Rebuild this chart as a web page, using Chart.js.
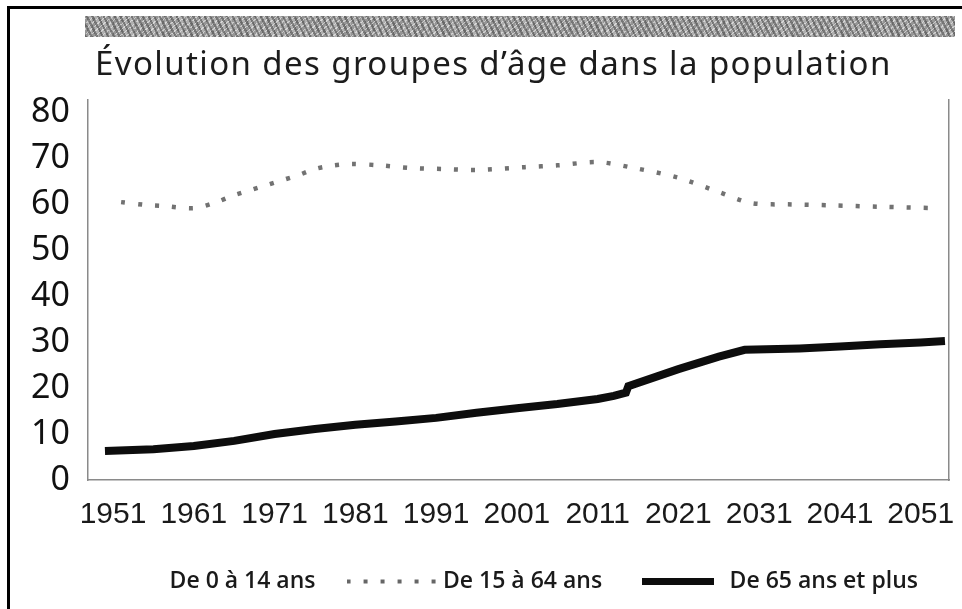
<!DOCTYPE html>
<html lang="fr">
<head>
<meta charset="utf-8">
<title>Évolution des groupes d'âge dans la population</title>
<script src="https://cdn.jsdelivr.net/npm/chart.js@4.4.1/dist/chart.umd.min.js"></script>
<style>
  html, body { margin: 0; padding: 0; background: #fff; }
  #page { position: relative; width: 962px; height: 609px; overflow: hidden; background: #fff; }
  #frame { position: absolute; left: 7px; top: 6px; right: -4px; bottom: -4px;
           border-left: 3px solid #000; border-top: 3px solid #000; }
  #band { position: absolute; left: 85px; top: 16px; width: 870px; height: 21px;
          background-color: #b0b0b0;
          background-image:
            repeating-linear-gradient(63deg, rgba(60,60,60,.5) 0 2px, transparent 2px 5px),
            repeating-linear-gradient(-41deg, rgba(255,255,255,.5) 0 1px, transparent 1px 4px),
            repeating-linear-gradient(90deg, rgba(90,90,90,.3) 0 3px, transparent 3px 7px); }
  #title { position: absolute; left: 95px; top: 46px; font: 33px/33px 'Noto Sans', sans-serif;
           letter-spacing: 1.4px; color: #1c1c1c; white-space: nowrap; }
  #chart { position: absolute; left: 10px; top: 10px; }
</style>
</head>
<body>
<div id="page">
  <div id="frame"></div>
  <div id="band"></div>
  <canvas id="chart" width="976" height="599"></canvas>
  <div id="title">Évolution des groupes d’âge dans la population</div>
</div>
<script>
// data (percent of the population)
const seriesNames = ['De 0 à 14 ans', 'De 15 à 64 ans', 'De 65 ans et plus'];

// 0-14 is in the legend but no line shows in the picture
const yearsKids = [];
const kids = [];

const yearsWorking = [1952, 1955, 1957, 1961, 1963.5, 1966, 1968, 1970, 1972, 1974, 1976, 1978, 1980.5,
  1984, 1988, 1992, 1996, 2002, 2006, 2011, 2015, 2021, 2026, 2030, 2035, 2040, 2046, 2053];
const working = [60.4, 59.8, 59.6, 59.1, 60.2, 61.9, 63.0, 64.1, 65.2, 66.3, 67.6, 68.3, 68.7,
  68.4, 67.8, 67.6, 67.4, 68.0, 68.4, 69.1, 68.0, 65.7, 62.6, 60.2, 59.9, 59.7, 59.4, 59.1];

const yearsSenior = [1950, 1956, 1961, 1966, 1971, 1976, 1981, 1986, 1991, 1996, 2001, 2006, 2011,
  2013, 2014.5, 2014.8, 2021, 2026, 2029.2, 2036, 2041, 2046, 2051, 2054];
const senior = [6.3, 6.7, 7.4, 8.5, 10.0, 11.1, 12.0, 12.7, 13.5, 14.6, 15.6, 16.5, 17.6,
  18.3, 19.0, 20.4, 24.1, 26.8, 28.3, 28.6, 29.0, 29.5, 29.9, 30.2];

const xTicks = [1951, 1961, 1971, 1981, 1991, 2001, 2011, 2021, 2031, 2041, 2051];
const yTicks = [0, 10, 20, 30, 40, 50, 60, 70, 80];

function points(xs, ys) {
  return xs.map((x, i) => ({ x: x, y: ys[i] }));
}

// small pictures for the legend symbols
function legendDots() {
  const c = document.createElement('canvas');
  c.width = 90; c.height = 6;
  const g = c.getContext('2d');
  g.fillStyle = '#666';
  for (let i = 0; i < 6; i++) g.fillRect(i * 17, 1, 4, 4);
  return c;
}
function legendBar() {
  const c = document.createElement('canvas');
  c.width = 72; c.height = 7;
  const g = c.getContext('2d');
  g.fillStyle = '#0d0d0d';
  g.fillRect(0, 0, 72, 7);
  return c;
}
const dotImg = legendDots();
const barImg = legendBar();

const dottedBorder = { display: true, color: '#8a8a8a', dash: [3, 2], width: 1.5 };

new Chart(document.getElementById('chart'), {
  type: 'line',
  data: {
    datasets: [
      {
        label: seriesNames[0],
        data: points(yearsKids, kids),
        borderColor: 'transparent',
        backgroundColor: 'transparent',
        borderWidth: 0,
        pointRadius: 0
      },
      {
        label: seriesNames[1],
        data: points(yearsWorking, working),
        borderColor: '#727272',
        backgroundColor: 'transparent',
        borderWidth: 4.5,
        borderDash: [4, 13],
        pointRadius: 0,
        tension: 0.3
      },
      {
        label: seriesNames[2],
        data: points(yearsSenior, senior),
        borderColor: '#0d0d0d',
        backgroundColor: 'transparent',
        borderWidth: 8,
        pointRadius: 0,
        tension: 0
      }
    ]
  },
  options: {
    responsive: false,
    animation: false,
    layout: { padding: { left: 0, right: 0, top: 90, bottom: 6 } },
    plugins: {
      title: { display: false },
      tooltip: { enabled: false },
      legend: {
        position: 'bottom',
        labels: {
          usePointStyle: true,
          pointStyleWidth: 80,
          padding: 36,
          color: '#1a1a1a',
          font: { family: "'Open Sans', sans-serif", size: 23, weight: 600 },
          generateLabels: (chart) => {
            const items = Chart.defaults.plugins.legend.labels.generateLabels(chart);
            items[0].pointStyle = 'line';
            items[0].lineWidth = 0;
            items[1].pointStyle = dotImg;
            items[2].pointStyle = barImg;
            return items;
          }
        }
      }
    },
    scales: {
      x: {
        type: 'linear',
        min: 1947.9,
        max: 2054.5,
        afterBuildTicks: (s) => { s.ticks = xTicks.map(v => ({ value: v })); },
        afterFit: (s) => { s.height = 54; },
        grid: { display: false },
        border: dottedBorder,
        ticks: {
          autoSkip: false,
          maxRotation: 0,
          padding: 9,
          color: '#1a1a1a',
          font: { family: "'Liberation Sans', sans-serif", size: 30 },
          callback: (v) => String(v)
        }
      },
      y: {
        min: 0,
        max: 82.6,
        afterBuildTicks: (s) => { s.ticks = yTicks.map(v => ({ value: v })); },
        afterFit: (s) => { s.width = 78; },
        grid: { display: false },
        border: dottedBorder,
        ticks: {
          padding: 10,
          color: '#111',
          font: { family: "'Noto Sans', sans-serif", size: 34 },
          callback: (v) => String(v)
        }
      },
      yr: {
        position: 'right',
        min: 0,
        max: 82.6,
        afterFit: (s) => { s.width = 37; },
        grid: { display: false },
        border: dottedBorder,
        ticks: { display: false }
      }
    }
  }
});
</script>
</body>
</html>
